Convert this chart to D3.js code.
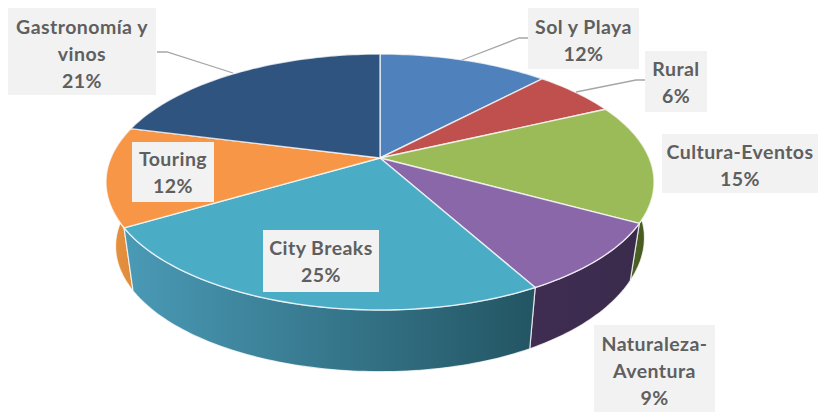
<!DOCTYPE html>
<html>
<head>
<meta charset="utf-8">
<style>
  html, body { margin: 0; padding: 0; background: #fff; }
  svg { display: block; }
  text { font-family: Lato, "Open Sans", sans-serif; font-weight: 700; font-size: 19.5px; letter-spacing: 0.45px; fill: #5f5f5f; text-anchor: middle; }
</style>
<script src="https://cdn.jsdelivr.net/npm/d3@7/dist/d3.min.js"></script>
</head>
<body>
<svg id="chart" width="818" height="412"></svg>
<script>
// Share of trips by travel type
const categories = ["Sol y Playa", "Rural", "Cultura-Eventos", "Naturaleza-Aventura", "City Breaks", "Touring", "Gastronomía y vinos"];
const shares = [12, 6, 15, 9, 25, 12, 21];
const labelLines = [
  ["Sol y Playa"], ["Rural"], ["Cultura-Eventos"], ["Naturaleza-", "Aventura"],
  ["City Breaks"], ["Touring"], ["Gastronomía y", "vinos"]
];
const faceColors = ["#4f81bd", "#c0504d", "#9bbb59", "#8a67a8", "#4bacc6", "#f79646", "#2f5480"];
const wallFrom = ["#3b6089", "#8f3b39", "#5c7a2e", "#3f2d52", "#4a9ab6", "#e8923f", "#22405f"];
const wallTo = ["#3b6089", "#8f3b39", "#43541f", "#3a2b4c", "#235563", "#dd8a3a", "#22405f"];

// Label box layout: [x0, y0, x1, y1, first baseline]
const boxes = [
  [528, 8, 639, 69, 34],
  [645, 51, 707, 112, 76],
  [662, 134, 818, 193, 159],
  [594, 325, 715, 412, 351],
  [263, 230, 379, 292, 255],
  [132, 142, 214, 202, 166],
  [8, 8, 156, 95, 34]
];
const lineStep = 27;
const leaders = [
  [[528, 38], [519, 38], [462, 60]],
  [[645, 80], [636, 80], [576, 92]],
  [[157, 52], [167, 52], [233, 73]]
];

// Perspective view of the disc
const pivot = { x: 380, y: 158 };
const spreadX = 269.2, spreadY = 123.5, foreshorten = 0.1875;
const lowerScale = 0.965, lowerY = 225;

const svg = d3.select("#chart");
const defs = svg.append("defs");
const pie = d3.pie().sort(null).value(d => d);
const slices = pie(shares);

// Small lens correction in the lower-left quadrant of the disc
function lens(t) {
  return t > Math.PI && t < 1.5 * Math.PI ? t - 0.04 * Math.sin(2 * (t - Math.PI)) : t;
}
function rimTop(a) {
  const t = lens(a), X = Math.sin(t), Y = -Math.cos(t), w = 1 - foreshorten * Y;
  return [pivot.x + spreadX * X / w, pivot.y + spreadY * Y / w];
}
function rimBottom(a) {
  const t = lens(a), X = Math.sin(t), Y = -Math.cos(t), w = 1 - foreshorten * Y;
  const tilt = X > 0 ? -11 * X * X * X : -2 * X * X;
  return [pivot.x + lowerScale * spreadX * X / w, lowerY + tilt + lowerScale * spreadY * Y / w];
}
function samples(a, b) {
  const n = Math.max(2, Math.ceil((b - a) / 0.02));
  return d3.range(n + 1).map(i => a + (b - a) * i / n);
}
const path = d3.line();

// Side walls, far slices first so the near ones overlap them
const order = slices.map((s, i) => i)
  .sort((a, b) => Math.cos((slices[b].startAngle + slices[b].endAngle) / 2) - Math.cos((slices[a].startAngle + slices[a].endAngle) / 2));

order.forEach(i => {
  const s = slices[i];
  const ts = samples(s.startAngle, s.endAngle);
  const top = ts.map(rimTop);
  const bottom = ts.map(rimBottom).reverse();
  const xs = top.concat(bottom).map(p => p[0]);
  const [x0, x1] = d3.extent(xs);
  const grad = defs.append("linearGradient")
    .attr("id", "wall" + i)
    .attr("gradientUnits", "userSpaceOnUse")
    .attr("x1", x0).attr("x2", x1).attr("y1", 0).attr("y2", 0);
  grad.append("stop").attr("offset", 0).attr("stop-color", wallFrom[i]);
  grad.append("stop").attr("offset", 1).attr("stop-color", wallTo[i]);
  svg.append("path")
    .attr("d", path(top.concat(bottom)) + "Z")
    .attr("fill", `url(#wall${i})`)
    .attr("stroke", "#fff").attr("stroke-opacity", 0.75).attr("stroke-width", 1.2)
    .attr("stroke-linejoin", "round");
});

// Top faces
slices.forEach((s, i) => {
  const rim = samples(s.startAngle, s.endAngle).map(rimTop);
  svg.append("path")
    .attr("d", path([[pivot.x, pivot.y]].concat(rim)) + "Z")
    .attr("fill", faceColors[i])
    .attr("stroke", "#fff").attr("stroke-opacity", 0.75).attr("stroke-width", 1.4)
    .attr("stroke-linejoin", "round");
});

// Leader lines
leaders.forEach(l => {
  svg.append("path").attr("d", path(l)).attr("fill", "none")
    .attr("stroke", "#a6a6a6").attr("stroke-width", 1.3);
});

// Data labels on light panels
categories.forEach((c, i) => {
  const [x0, y0, x1, y1, base] = boxes[i];
  svg.append("rect").attr("x", x0).attr("y", y0)
    .attr("width", x1 - x0).attr("height", y1 - y0).attr("fill", "#f2f2f2");
  const lines = labelLines[i].concat([shares[i] + "%"]);
  svg.append("text").selectAll("tspan").data(lines).join("tspan")
    .attr("x", (x0 + x1) / 2)
    .attr("y", (d, k) => base + k * lineStep)
    .text(d => d);
});
</script>
</body>
</html>
